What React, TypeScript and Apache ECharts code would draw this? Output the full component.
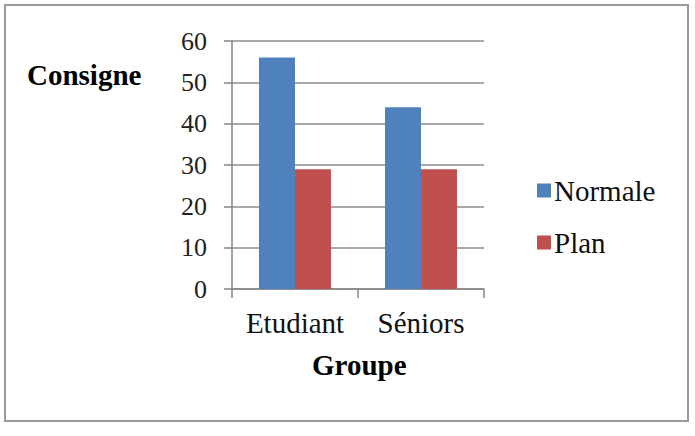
import React, { useEffect, useRef } from "react";
import * as echarts from "echarts";

// Group categories and per-instruction values
const groups = ["Etudiant", "Séniors"];
const normaleValues = [56, 44];
const planValues = [29, 29];
const yTicks = [0, 10, 20, 30, 40, 50, 60];

const FONT = "Liberation Serif";
const BLUE = "#4F81BD";
const RED = "#C0504D";

export default function App() {
  const ref = useRef<HTMLDivElement>(null);

  useEffect(() => {
    document.body.style.margin = "0";
    const chart = echarts.init(ref.current!, null, { renderer: "svg" });
    chart.setOption({
      animation: false,
      backgroundColor: "#ffffff",
      textStyle: { fontFamily: FONT, color: "#000" },
      grid: { left: 232, top: 41, width: 252, height: 248, containLabel: false },
      xAxis: {
        type: "category",
        data: groups,
        axisLine: { lineStyle: { color: "#868686", width: 1.5 } },
        axisTick: { show: true, length: 9, lineStyle: { color: "#868686", width: 1.5 } },
        axisLabel: { interval: 0, fontFamily: FONT, fontSize: 29, color: "#111", margin: 19 },
      },
      yAxis: {
        type: "value",
        min: yTicks[0],
        max: yTicks[yTicks.length - 1],
        interval: 10,
        axisLine: { show: true, lineStyle: { color: "#868686", width: 1.5 } },
        axisTick: { show: true, length: 8, lineStyle: { color: "#868686", width: 1.5 } },
        axisLabel: { fontFamily: FONT, fontSize: 26, color: "#222", margin: 25 },
        splitLine: { lineStyle: { color: "#8c8c8c", width: 1.5 } },
      },
      legend: {
        orient: "vertical",
        left: 532,
        top: 171,
        itemWidth: 14,
        itemHeight: 14,
        itemGap: 23,
        icon: "rect",
        textStyle: { fontFamily: FONT, fontSize: 29, color: "#111", lineHeight: 28, padding: [0, 0, 0, -2] },
        data: ["Normale", "Plan"],
      },
      series: [
        {
          name: "Normale",
          type: "bar",
          data: normaleValues,
          barWidth: 36,
          barGap: "0%",
          barCategoryGap: "42%",
          itemStyle: { color: BLUE },
        },
        {
          name: "Plan",
          type: "bar",
          data: planValues,
          barWidth: 36,
          barGap: "0%",
          itemStyle: { color: RED },
        },
      ],
      graphic: [
        {
          type: "rect",
          shape: { x: 5, y: 5, width: 683, height: 416 },
          style: { fill: "none", stroke: "#9a9a9a", lineWidth: 2 },
          silent: true,
        },
        {
          type: "text",
          left: 27,
          top: 60,
          style: { text: "Consigne", font: `bold 29px ${FONT}`, fill: "#000" },
        },
        {
          type: "text",
          left: 312,
          top: 350,
          style: { text: "Groupe", font: `bold 29px ${FONT}`, fill: "#000" },
        },
      ],
    });
    return () => chart.dispose();
  }, []);

  return (
    <div
      ref={ref}
      style={{ position: "fixed", left: 0, top: 0, width: 695, height: 436 }}
    />
  );
}
